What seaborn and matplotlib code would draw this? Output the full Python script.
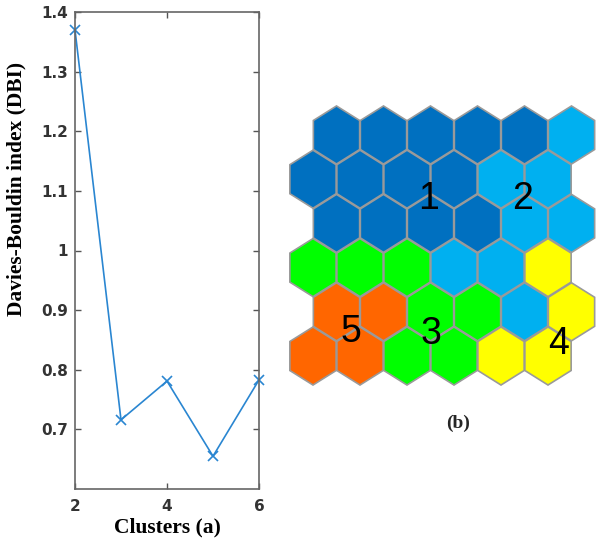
import matplotlib
matplotlib.use('Agg')
import matplotlib.pyplot as plt
import seaborn as sns
import numpy as np
import pandas as pd
from matplotlib.patches import Polygon

# ---- data ----
clusters = [2, 3, 4, 5, 6]
dbi = [1.370, 0.716, 0.781, 0.655, 0.783]
yticks = [0.7, 0.8, 0.9, 1.0, 1.1, 1.2, 1.3, 1.4]
ytick_labels = ['0.7', '0.8', '0.9', '1', '1.1', '1.2', '1.3', '1.4']
xticks = [2, 4, 6]
xtick_labels = ['2', '4', '6']

# SOM map: cluster id of each hexagon (rows from top)
som_map = [
    [1, 1, 1, 1, 1, 2],
    [1, 1, 1, 1, 2, 2],
    [1, 1, 1, 1, 2, 2],
    [3, 3, 3, 2, 2, 4],
    [5, 5, 3, 3, 2, 4],
    [5, 5, 3, 3, 4, 4],
]
cluster_ids = [1, 2, 3, 4, 5]
cluster_colors = ['#0070C0', '#00B0F0', '#00FF00', '#FFFF00', '#FF6600']
label_gx = [2.45, 4.45, 2.50, 5.22, 0.80]
label_gy = [1.45, 1.45, 4.50, 4.72, 4.45]

sns.set_theme(style='ticks')
plt.rcParams['font.family'] = ['DejaVu Sans']

fig = plt.figure(figsize=(6.01, 5.42), dpi=100)

# ---- left panel ----
line_color = '#2A86D1'
ax = fig.add_axes([75/601, 1-489/542, (259-75)/601, (489-12)/542])
df = pd.DataFrame({'Clusters': clusters, 'DBI': dbi})
sns.lineplot(data=df, x='Clusters', y='DBI', ax=ax, color=line_color,
             marker='x', markersize=7, markeredgewidth=1.2,
             markeredgecolor=line_color, linewidth=1.2, clip_on=False)
ax.set_xlim(2, 6)
ax.set_ylim(0.6, 1.4)
ax.set_xticks(xticks)
ax.set_xticklabels(xtick_labels)
ax.set_yticks(yticks)
ax.set_yticklabels(ytick_labels)
ax.tick_params(direction='in', length=4, width=1, top=True, right=True,
               colors='#555555', labelcolor='#333333', labelsize=11)
ax.tick_params(axis='y', pad=5)
ax.tick_params(axis='x', pad=7)
for lab in ax.get_xticklabels() + ax.get_yticklabels():
    lab.set_fontweight('bold')
for s in ax.spines.values():
    s.set_color('#666666')
    s.set_linewidth(1.2)
ax.set_xlabel('Clusters (a)', family=['Liberation Serif', 'DejaVu Serif'],
              fontweight='bold', fontsize=15.5, color='black', va='center')
ax.xaxis.set_label_coords(0.503, -0.08)
ax.set_ylabel('Davies-Bouldin index (DBI)', family=['Liberation Serif', 'DejaVu Serif'],
              fontweight='bold', fontsize=15.5, color='black', va='center', ha='center')
ax.yaxis.set_label_coords(-0.32, 0.629)

# ---- right panel: SOM hex map ----
px0, px1, py0, py1 = 280, 601, 90, 400
colstep, rowstep = 47.0, 44.2
gx0_px, gy0_px = 313.0, 135.0
hx = fig.add_axes([px0/601, 1-py1/542, (px1-px0)/601, (py1-py0)/542])
hx.set_xlim((px0-gx0_px)/colstep, (px1-gx0_px)/colstep)
hx.set_ylim((py1-gy0_px)/rowstep, (py0-gy0_px)/rowstep)
hx.axis('off')

hex_dx = np.array([0, 0.5, 0.5, 0, -0.5, -0.5])
hex_dy = np.array([-2/3, -1/3, 1/3, 2/3, 1/3, -1/3])
color_of = dict(zip(cluster_ids, cluster_colors))
for r, row in enumerate(som_map):
    shift = 0.5 if r % 2 == 0 else 0.0
    for c, cid in enumerate(row):
        cx, cy = c + shift, r
        verts = np.column_stack([cx + hex_dx*0.985, cy + hex_dy*0.985])
        hx.add_patch(Polygon(verts, closed=True, facecolor=color_of[cid],
                             edgecolor='#9a9a9a', linewidth=1.2))

for cid, gx, gy in zip(cluster_ids, label_gx, label_gy):
    hx.text(gx, gy, str(cid), ha='center', va='center', fontsize=27,
            color='black', family=['Liberation Sans', 'DejaVu Sans'])

fig.text(458/601, 1-423/542, '(b)', ha='center', va='center',
         family=['Liberation Serif', 'DejaVu Serif'], fontweight='bold', fontsize=14)

fig.savefig('out.png', dpi=100)
